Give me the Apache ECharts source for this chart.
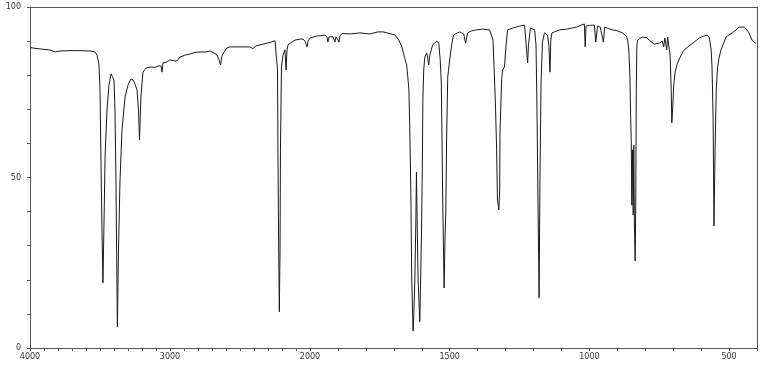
<!DOCTYPE html>
<html>
<head>
<meta charset="utf-8">
<script src="https://cdn.jsdelivr.net/npm/echarts@6/dist/echarts.min.js"></script>
<style>
html,body{margin:0;padding:0;background:#fff;}
#chart{width:763px;height:368px;}
</style>
</head>
<body>
<div id="chart"></div>
<script>
// Wavenumber (cm-1), descending
const wavenumbers = [
4000,3929,3857,3821,3786,3714,3643,3571,3536,3521,3507,3500,3493,3486,3479,3471,3464,3450,3436,3421,3411,3400,3393,3386,3376,3368,3357,3343,3321,3300,3279,3264,3250,3236,3225,3218,3207,3193,3171,3143,3107,3086,3064,3057,3050,3021,3000,2971,2950,2929,2893,2857,2821,2786,2750,2714,2686,2664,2650,2639,2629,2614,2593,2571,2500,2429,2407,2386,2357,2336,2286,2250,2236,2232,2229,2225,2219,2214,2211,2204,2193,2179,2171,2164,2157,2129,2107,2071,2050,2036,2021,2014,2000,
1975,1957,1946,1939,1936,1932,1925,1918,1911,1907,1900,1896,1893,1886,1857,1821,1786,1757,1739,1714,1696,1682,1671,1661,1654,1650,1646,1643,1639,1636,1631,1629,1625,1621,1619,1616,1613,1607,1604,1601,1598,1596,1593,1589,1582,1579,1575,1571,1561,1546,1539,1534,1530,1527,1525,1520,1516,1514,1511,1507,1500,1493,1486,1464,1450,1443,1436,1421,1404,1382,1357,1350,1345,1339,1336,1332,1329,1324,1321,1320,1314,1311,1304,1298,1293,1275,1250,1232,1225,1221,1218,1211,1204,1196,1191,1188,1184,1180,1177,1173,1168,1161,1150,1145,1141,1138,1134,1125,1107,1082,1064,1046,1029,1018,1015,1012,1000,982,977,971,961,954,950,945,936,918,900,882,868,863,859,855,852,850,848,846,843,841,839,836,834,832,830,827,811,796,786,768,761,750,739,734,730,727,723,720,714,711,707,705,702,698,693,686,675,661,643,625,607,589,579,571,564,561,557,554,550,546,541,536,529,518,511,500,489,475,464,446,436,429,418,411,404
];
// Transmittance (%)
const transmittance = [
88.1,87.7,87.4,86.8,87.1,87.2,87.2,87.1,86.8,85.9,83.0,75.7,55.1,34.6,19.1,37.5,56.0,69.8,77.1,80.4,80.8,78.6,69.8,49.3,6.2,28.7,49.3,63.9,73.6,77.1,78.9,78.6,77.4,75.7,69.8,61.0,74.2,80.9,82.1,82.4,82.3,82.7,82.7,80.9,83.6,83.9,84.5,84.2,84.2,85.3,85.9,86.2,86.7,86.8,86.8,87.1,86.5,85.9,84.5,83.0,85.6,86.8,88.0,88.3,88.3,88.3,87.8,88.6,88.9,89.1,89.6,90.1,89.7,81.5,58.1,34.6,10.6,28.7,58.1,82.4,85.9,87.4,81.5,87.4,88.9,89.7,90.3,90.6,90.6,90.0,88.3,90.0,90.9,
91.5,91.6,91.8,91.2,89.7,91.2,91.3,91.3,89.7,91.3,91.2,89.7,91.5,92.2,92.1,92.4,92.1,92.7,92.7,92.2,91.8,90.3,88.3,85.0,83.0,79.5,75.7,64.8,45.5,20.8,5.0,8.2,19.1,37.5,51.6,34.6,19.9,7.7,19.9,33.7,52.2,72.7,81.5,85.3,86.5,85.0,83.0,85.9,88.9,90.0,89.4,84.5,77.7,58.1,43.4,17.6,34.6,39.6,61.0,79.5,84.5,88.9,91.8,92.7,92.1,89.4,92.4,93.0,93.3,93.5,93.3,92.8,90.3,77.7,70.7,58.1,43.4,40.5,46.3,63.0,78.6,81.5,82.4,88.9,93.3,93.8,94.4,94.7,94.4,83.6,88.9,93.8,94.1,93.3,88.9,72.7,43.4,14.7,49.3,77.7,89.7,92.4,91.8,88.9,80.9,90.3,92.4,92.7,93.3,93.5,93.8,94.1,94.7,95.0,88.3,94.4,94.6,94.7,89.7,94.4,94.1,94.1,89.7,94.1,93.8,93.3,93.0,92.4,91.5,90.3,87.4,80.1,66.9,60.1,41.9,58.1,39.0,59.5,36.7,25.5,43.4,75.7,88.9,90.3,91.2,91.0,90.3,89.1,88.9,89.4,90.0,88.3,90.9,91.2,87.4,91.2,91.2,85.9,75.7,66.0,69.8,77.1,80.9,83.3,85.3,87.4,88.6,89.7,90.9,91.5,91.8,91.2,87.4,82.4,66.9,35.8,58.1,75.7,82.4,85.0,87.4,89.7,91.2,91.8,92.4,93.3,94.1,94.1,93.3,92.4,90.3,89.7,89.4
];
const xLabelsHigh = [4000, 3000];
const xLabelsLow = [2000, 1500, 1000, 500];
const yLabels = [0, 50, 100];

const highData = [], lowData = [];
wavenumbers.forEach((w, i) => {
  if (w >= 2000) highData.push([w, transmittance[i]]);
  if (w <= 2000) lowData.push([w, transmittance[i]]);
});

const axisColor = '#555';
const labelStyle = {fontFamily: 'DejaVu Sans', fontSize: 8, color: '#333'};

function xAxisBottom(idx, min, max, labels) {
  return {
    type: 'value', gridIndex: idx, min: min, max: max, interval: 100, inverse: true,
    position: 'bottom',
    axisLine: {show: true, onZero: false, lineStyle: {color: axisColor, width: 1}},
    axisTick: {show: true, inside: false, length: 3, lineStyle: {color: axisColor}},
    splitLine: {show: false},
    axisLabel: Object.assign({
      margin: 5, showMinLabel: true, showMaxLabel: true, hideOverlap: false,
      formatter: v => labels.indexOf(v) >= 0 ? String(v) : ''
    }, labelStyle)
  };
}
function xAxisTop(idx, min, max) {
  return {
    type: 'value', gridIndex: idx, min: min, max: max, inverse: true, position: 'top',
    axisLine: {show: true, onZero: false, lineStyle: {color: axisColor, width: 1}},
    axisTick: {show: false}, axisLabel: {show: false}, splitLine: {show: false}
  };
}

const chart = echarts.init(document.getElementById('chart'), null, {renderer: 'canvas'});
chart.setOption({
  animation: false,
  backgroundColor: '#fff',
  grid: [
    {left: 30, top: 7, width: 280, height: 341},
    {left: 310, top: 7, width: 447, height: 341}
  ],
  xAxis: [
    xAxisBottom(0, 2000, 4000, xLabelsHigh),
    xAxisBottom(1, 400, 2000, xLabelsLow),
    xAxisTop(0, 2000, 4000),
    xAxisTop(1, 400, 2000)
  ],
  yAxis: [
    {
      type: 'value', gridIndex: 0, min: 0, max: 100, interval: 10, position: 'left',
      axisLine: {show: true, onZero: false, lineStyle: {color: axisColor, width: 1}},
      axisTick: {show: true, inside: false, length: 3, lineStyle: {color: axisColor}},
      splitLine: {show: false},
      axisLabel: Object.assign({
        margin: 9, formatter: v => yLabels.indexOf(v) >= 0 ? String(v) : ''
      }, labelStyle)
    },
    {
      type: 'value', gridIndex: 1, min: 0, max: 100, interval: 10, position: 'left',
      axisLine: {show: false}, axisTick: {show: false}, axisLabel: {show: false}, splitLine: {show: false}
    },
    {
      type: 'value', gridIndex: 1, min: 0, max: 100, position: 'right',
      axisLine: {show: true, onZero: false, lineStyle: {color: axisColor, width: 1}},
      axisTick: {show: false}, axisLabel: {show: false}, splitLine: {show: false}
    }
  ],
  series: [
    {
      type: 'line', xAxisIndex: 0, yAxisIndex: 0, data: highData,
      showSymbol: false, symbol: 'none', lineStyle: {color: '#1a1a1a', width: 1}
    },
    {
      type: 'line', xAxisIndex: 1, yAxisIndex: 1, data: lowData,
      showSymbol: false, symbol: 'none', lineStyle: {color: '#1a1a1a', width: 1}
    }
  ]
});
</script>
</body>
</html>
